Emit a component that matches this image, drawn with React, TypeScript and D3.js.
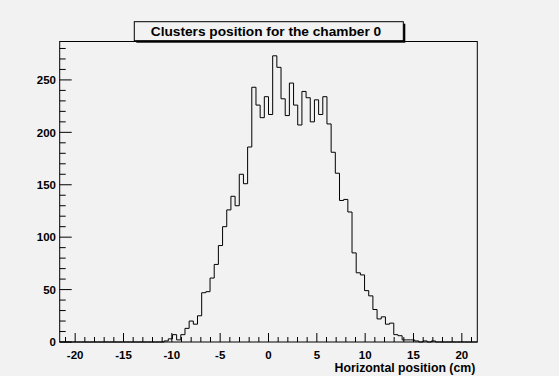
import React from "react";
import * as d3 from "d3";

const xMin = -21.6;
const xMax = 21.6;
const nBins = 100;
// bin contents (bins 0..99)
const counts: number[] = [
  0, 0, 0, 0, 0, 0, 0, 0, 0, 0,
  0, 0, 0, 0, 0, 0, 0, 0, 0, 0,
  0, 0, 0, 0, 0, 1, 3, 7, 2, 7,
  13, 20, 17, 25, 47, 48, 61, 74, 92, 110,
  126, 139, 130, 160, 151, 186, 243, 226, 214, 234,
  217, 273, 262, 232, 216, 247, 226, 207, 239, 233,
  210, 231, 217, 234, 208, 181, 161, 135, 136, 124,
  85, 66, 64, 49, 44, 31, 22, 24, 17, 18,
  7, 6, 2, 2, 2, 1, 0, 1, 0, 1,
  0, 0, 0, 0, 0, 0, 0, 0, 0, 0,
];
const xTickLabels = [-20, -15, -10, -5, 0, 5, 10, 15, 20];
const yTickLabels = [0, 50, 100, 150, 200, 250];
const title = "Clusters position for the chamber 0";
const xTitle = "Horizontal position (cm)";

const W = 559;
const H = 376;
const L = 59.7;
const R = 477.3;
const T = 41.5;
const B = 342;
const BG = "#f2f2f2";
const FONT = "'Liberation Sans', Arial, Helvetica, sans-serif";

export default function App() {
  const maxV = d3.max(counts) as number;
  const x = d3.scaleLinear().domain([xMin, xMax]).range([L, R]);
  const y = d3.scaleLinear().domain([0, maxV * 1.05]).range([B, T]);
  const bw = (xMax - xMin) / nBins;

  let d = `M${x(xMin)},${y(0)}`;
  counts.forEach((c, i) => {
    const x0 = x(xMin + i * bw);
    const x1 = x(xMin + (i + 1) * bw);
    d += `L${x0},${y(c)}L${x1},${y(c)}`;
  });
  d += `L${x(xMax)},${y(0)}`;

  const xMinor = d3.range(-21, 22, 1).filter((v) => v % 5 !== 0);
  const yMinor = d3.range(0, 290, 10).filter((v) => v % 50 !== 0 && y(v) >= T);

  return (
    <svg
      width={W}
      height={H}
      style={{ position: "absolute", left: 0, top: 0, background: BG }}
      fontFamily={FONT}
    >
      <rect x={0} y={0} width={W} height={H} fill={BG} />
      <rect x={L} y={T} width={R - L} height={B - T} fill={BG} stroke="#000" strokeWidth={1} />
      <path d={d} fill="none" stroke="#000" strokeWidth={1} />
      {xTickLabels.map((v) => (
        <g key={"xt" + v}>
          <line x1={x(v)} x2={x(v)} y1={B} y2={B - 9} stroke="#000" />
          <text x={x(v)} y={358.5} textAnchor="middle" fontSize={11.5} fontWeight="bold">
            {v}
          </text>
        </g>
      ))}
      {xMinor.map((v) => (
        <line key={"xm" + v} x1={x(v)} x2={x(v)} y1={B} y2={B - 5} stroke="#000" />
      ))}
      {yTickLabels.map((v) => (
        <g key={"yt" + v}>
          <line x1={L} x2={L + 12} y1={y(v)} y2={y(v)} stroke="#000" />
          <text x={56} y={y(v) + 4.2} textAnchor="end" fontSize={11.5} fontWeight="bold">
            {v}
          </text>
        </g>
      ))}
      {yMinor.map((v) => (
        <line key={"ym" + v} x1={L} x2={L + 6} y1={y(v)} y2={y(v)} stroke="#000" />
      ))}
      <text x={R - 2} y={372} textAnchor="end" fontSize={12.3} fontWeight="bold">
        {xTitle}
      </text>
      <rect x={136.3} y={23.7} width={269} height={19} fill="#000" />
      <rect x={134.3} y={21.7} width={269} height={19} fill={BG} stroke="#000" strokeWidth={1} />
      <text x={266} y={35.5} textAnchor="middle" fontSize={13.7} fontWeight="bold">
        {title}
      </text>
    </svg>
  );
}
